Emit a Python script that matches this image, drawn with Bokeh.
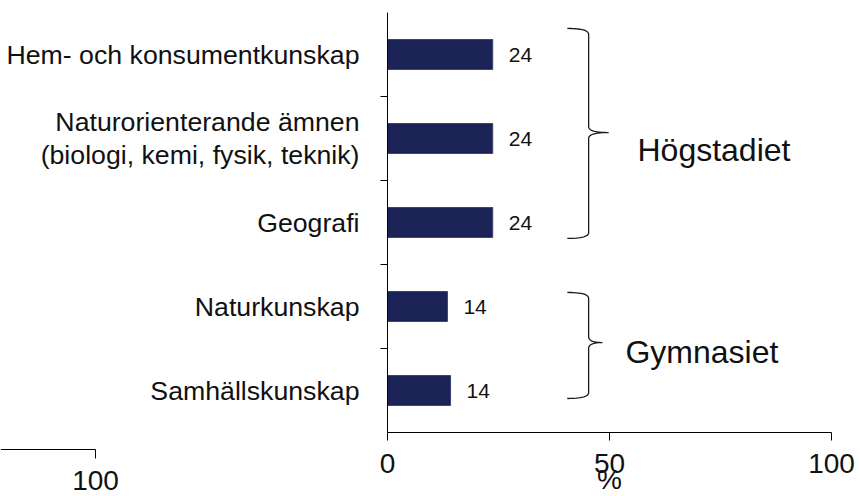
import numpy as np
from bokeh.plotting import figure
from bokeh.models import LinearAxis, FixedTicker, Range1d
from bokeh.core.properties import value
from bokeh.embed import file_html
from bokeh.resources import INLINE

# ---------------- data ----------------
categories = [
    "Hem- och konsumentkunskap",
    "Naturorienterande ämnen\n(biologi, kemi, fysik, teknik)",
    "Geografi",
    "Naturkunskap",
    "Samhällskunskap",
]
values = [23.7, 23.7, 23.7, 13.5, 14.2]
value_labels = ["24", "24", "24", "14", "14"]
x_ticks = [0, 50, 100]
x_title = "%"
groups = ["Högstadiet", "Gymnasiet"]
stray_ticks = [100]

# brace geometry (annotation layout, data units)
brace_top = [4.81, 1.667]
brace_tip = [3.571, 1.071]
brace_bottom = [2.31, 0.405]
brace_x_left = 40.5
brace_x_mid = 45.3
brace_x_tip = [49.8, 48.4]
group_label_x = [56.3, 53.6]
group_label_y = [3.36, 0.96]

# ---------------- layout ----------------
FONT = "Liberation Sans"
W, H = 860, 496
X0, PX = 387, 4.44     # canvas px of x=0, px per unit
Y0, PY = 432, 84       # canvas px (from top) of y=0, px per category

n = len(categories)
centers = [n - 0.5 - i for i in range(n)]

p = figure(width=W, height=H, output_backend="svg", toolbar_location=None,
           x_range=Range1d(-X0 / PX, (W - X0) / PX),
           y_range=Range1d(-(H - Y0) / PY, Y0 / PY),
           x_axis_type=None, y_axis_type=None, min_border=0,
           background_fill_color="white", border_fill_color="white")
p.outline_line_color = None
p.min_border_left = p.min_border_right = p.min_border_top = p.min_border_bottom = 0

# bars
p.hbar(y=centers, left=0, right=values, height=0.357,
       fill_color="#1b2256", line_color="#3d4578", line_width=1)

# value labels
p.text(x=values, y=centers, text=value_labels, x_offset=16,
       text_align="left", text_baseline="middle",
       text_font=value(FONT), text_font_size="21px", text_color="#111111")

# braces
def qbez(a, c, b, k=14):
    t = np.linspace(0, 1, k)
    x = (1 - t) ** 2 * a[0] + 2 * (1 - t) * t * c[0] + t ** 2 * b[0]
    y = (1 - t) ** 2 * a[1] + 2 * (1 - t) * t * c[1] + t ** 2 * b[1]
    return list(x), list(y)

d = 0.07
for top, tip, bot, xt in zip(brace_top, brace_tip, brace_bottom, brace_x_tip):
    xs, ys = [], []
    for seg in [
        ((brace_x_left, top), (brace_x_mid, top), (brace_x_mid, top - d)),
        ((brace_x_mid, tip + d), (brace_x_mid, tip), (xt, tip)),
        ((xt, tip), (brace_x_mid, tip), (brace_x_mid, tip - d)),
        ((brace_x_mid, bot + d), (brace_x_mid, bot), (brace_x_left, bot)),
    ]:
        sx, sy = qbez(*seg)
        xs += sx
        ys += sy
    p.line(xs, ys, line_color="#1a1a1a", line_width=1.3)

p.text(x=group_label_x, y=group_label_y, text=groups, text_align="left",
       text_baseline="middle", text_font=value(FONT), text_font_size="32px",
       text_color="#111111")

# x axis
xa = LinearAxis(fixed_location=0, bounds=(0, 100), ticker=FixedTicker(ticks=x_ticks))
xa.axis_line_color = "black"
xa.axis_line_width = 1
xa.major_tick_in = 0
xa.major_tick_out = 8
xa.minor_tick_line_color = None
xa.major_label_standoff = 13
xa.major_label_text_font = FONT
xa.major_label_text_font_size = "28px"
xa.major_label_text_color = "#111111"
xa.axis_label = x_title
xa.axis_label_text_font = FONT
xa.axis_label_text_font_size = "28px"
xa.axis_label_text_font_style = "normal"
xa.axis_label_text_color = "#111111"
xa.axis_label_standoff = -12
p.add_layout(xa, "below")

# stray axis fragment at bottom-left
p.extra_x_ranges = {"stray": Range1d(100 - 95 / PX, 100 + (W - 95) / PX)}
sa = LinearAxis(x_range_name="stray", fixed_location=-17 / PY,
                bounds=(100 - 95 / PX, 100), ticker=FixedTicker(ticks=stray_ticks))
sa.axis_line_color = "black"
sa.major_tick_in = 0
sa.major_tick_out = 9
sa.minor_tick_line_color = None
sa.major_label_standoff = 12
sa.major_label_text_font = FONT
sa.major_label_text_font_size = "28px"
sa.major_label_text_color = "#111111"
p.add_layout(sa, "below")

# y axis (line + separator ticks)
ya = LinearAxis(fixed_location=0, bounds=(0, n), ticker=FixedTicker(ticks=list(range(1, n))))
ya.axis_line_color = "black"
ya.major_tick_in = 0
ya.major_tick_out = 7
ya.minor_tick_line_color = None
ya.major_label_text_font_size = "0px"
ya.major_label_overrides = {i: "" for i in range(1, n)}
p.add_layout(ya, "left")

# category labels
ca = LinearAxis(fixed_location=0, ticker=FixedTicker(ticks=centers))
ca.axis_line_color = None
ca.major_tick_line_color = None
ca.minor_tick_line_color = None
ca.major_label_standoff = 22
ca.major_label_overrides = {c: lab for c, lab in zip(centers, categories)}
ca.major_label_text_font = FONT
ca.major_label_text_font_size = "26.7px"
ca.major_label_text_color = "#111111"
ca.major_label_text_line_height = 1.12
p.add_layout(ca, "left")

open("out.html", "w").write(file_html(p, INLINE))
